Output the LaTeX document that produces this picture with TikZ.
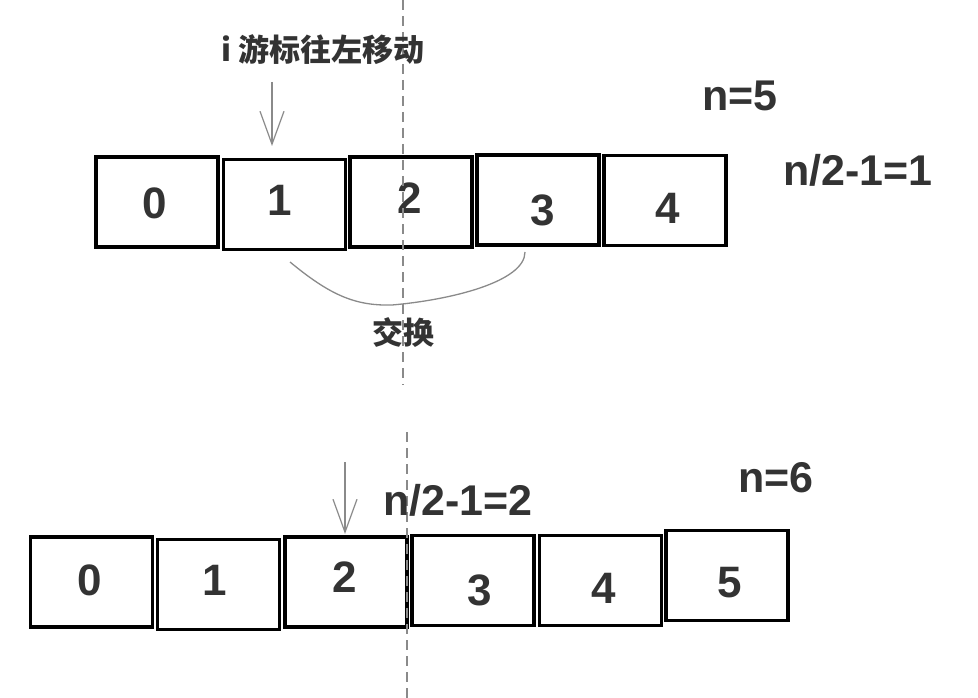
\documentclass[tikz,border=0pt]{standalone}
\usepackage{fontspec}
\setmainfont{Liberation Sans}
\newfontfamily\cjk{Noto Sans CJK SC}
\usetikzlibrary{arrows.meta}
\definecolor{txt}{HTML}{333333}
\definecolor{guide}{HTML}{8A8A8A}
\tikzset{
  cell/.style={draw=black, line width=3.5pt, minimum width=122pt, minimum height=90pt, inner sep=0pt},
  digit/.style={text=txt, font=\fontsize{44}{44}\selectfont\bfseries, inner sep=0pt},
  lbl/.style={text=txt, font=\fontsize{43}{43}\selectfont\bfseries, inner sep=0pt},
  cjklbl/.style={text=txt, font=\cjk\fontsize{31}{31}\selectfont\bfseries, inner sep=0pt},
  midline/.style={draw=guide, line width=1.6pt, dash pattern=on 10pt off 6pt},
  pointer/.style={draw=guide, line width=1.2pt, -{Straight Barb[length=33pt,width=24pt,line width=1.2pt]}},
  swapline/.style={draw=guide, line width=1.3pt}
}
\begin{document}
\begin{tikzpicture}[x=1pt,y=-1pt]
\useasboundingbox (0,0) rectangle (978,698);
% top row
\node[cell] (t0) at (157,202) {};
\node[cell] (t1) at (284.5,204.5) {};
\node[cell] (t2) at (411,202) {};
\node[cell] (t3) at (538,200) {};
\node[cell] (t4) at (665,200.5) {};
\node[digit] (dt0) at (155,203) {0};
\node[digit] (dt1) at (280,200) {1};
\node[digit] (dt2) at (410,198) {2};
\node[digit] (dt3) at (543,210) {3};
\node[digit] (dt4) at (668,208) {4};
\coordinate (tm0) at (403,0);
\coordinate (tm1) at (403,385);
\draw[midline] (tm0) -- (tm1);
\node[cjklbl] (ti) at (323,50) {i 游标往左移动};
\coordinate (pa) at (272,82);
\coordinate (pb) at (272,146);
\draw[pointer] (pa) -- (pb);
\node[lbl] (n5) at (740,96) {n=5};
\node[lbl] (h1) at (858,170) {n/2-1=1};
\coordinate (sa) at (290,262);
\coordinate (sm) at (392,305);
\coordinate (sb) at (525,252);
\draw[swapline] (sa) .. controls (330,295) and (355,306) .. (sm) .. controls (450,300) and (525,282) .. (sb);
\node[cjklbl] (sw) at (403,333) {交换};
% bottom row
\node[cell] (b0) at (91.5,582) {};
\node[cell] (b1) at (218.5,584.5) {};
\node[cell] (b2) at (346,582) {};
\node[cell] (b3) at (473,580.5) {};
\node[cell] (b4) at (600.5,580.5) {};
\node[cell] (b5) at (727,575.5) {};
\node[digit] (db0) at (90,580) {0};
\node[digit] (db1) at (215,580) {1};
\node[digit] (db2) at (345,577) {2};
\node[digit] (db3) at (480,590) {3};
\node[digit] (db4) at (604,588) {4};
\node[digit] (db5) at (730,583) {5};
\coordinate (bm0) at (407,432);
\coordinate (bm1) at (407,698);
\draw[midline] (bm0) -- (bm1);
\coordinate (qa) at (345,462);
\coordinate (qb) at (345,534);
\draw[pointer] (qa) -- (qb);
\node[lbl] (h2) at (458,500) {n/2-1=2};
\node[lbl] (n6) at (776,478) {n=6};
\end{tikzpicture}
\end{document}
